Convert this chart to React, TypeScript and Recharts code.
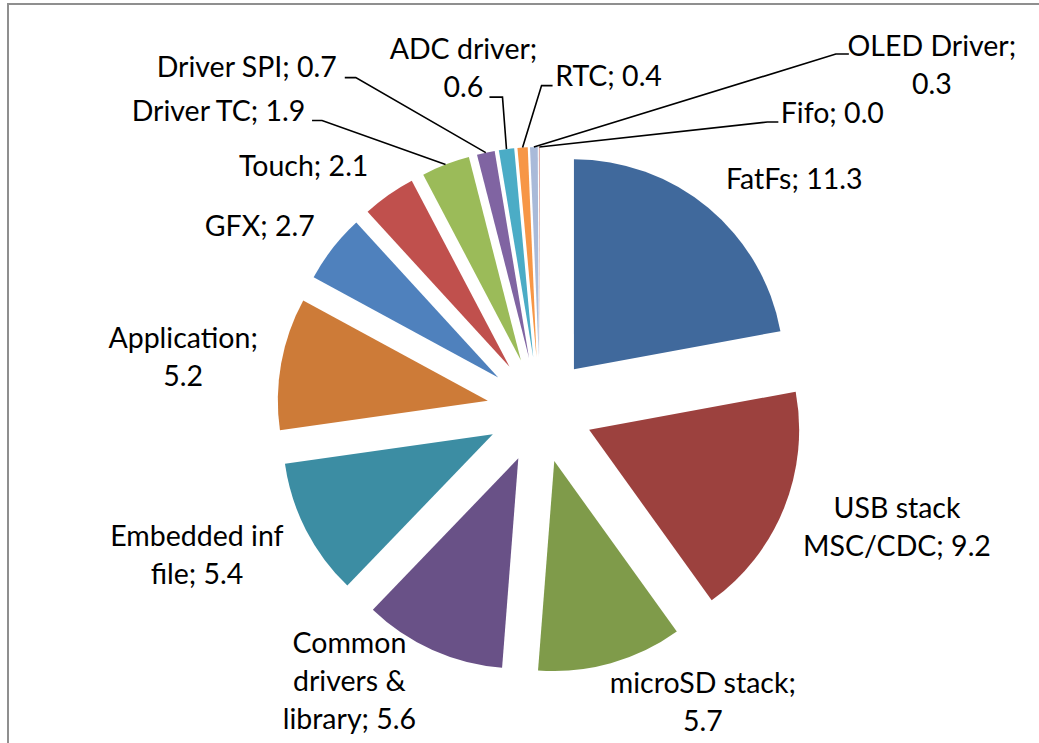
import React from 'react';
import { PieChart, Pie, Cell, Sector } from 'recharts';

// ---- data ----
const categories: string[] = [
  'FatFs',
  'USB stack MSC/CDC',
  'microSD stack',
  'Common drivers & library',
  'Embedded inf file',
  'Application',
  'GFX',
  'Touch',
  'Driver TC',
  'Driver SPI',
  'ADC driver',
  'RTC',
  'OLED Driver',
  'Fifo',
];
const sizes: number[] = [11.3, 9.2, 5.7, 5.6, 5.4, 5.2, 2.7, 2.1, 1.9, 0.7, 0.6, 0.4, 0.3, 0.04];

// ---- styles ----
const colors: string[] = [
  '#40699C', '#9C413E', '#7F9B4A', '#695187', '#3C8DA3', '#CD7B38',
  '#4F81BD', '#C0504D', '#9BBB59', '#8064A2', '#4BACC6', '#F79646',
  '#A9BAD9', '#D9A5A3',
];

// label placement: offset of text centre / first baseline from the exploded slice's outer mid point
type Leader = { ax: number; ay: number; tick: number };
type LabelLayout = { dx: number; dy: number; wrap: number[]; leader?: Leader };
const labelLayout: LabelLayout[] = [
  { dx: 86, dy: -19, wrap: [3] },
  { dx: 113, dy: 10, wrap: [2, 2] },
  { dx: 92, dy: 30, wrap: [2, 1] },
  { dx: -83, dy: 3, wrap: [1, 2, 2] },
  { dx: -109, dy: 16, wrap: [2, 2] },
  { dx: -98, dy: -16, wrap: [1, 1] },
  { dx: -73, dy: -12, wrap: [2] },
  { dx: -85, dy: -19, wrap: [2] },
  { dx: -227, dy: -44, wrap: [3], leader: { ax: 93.5, ay: 0, tick: 10 } },
  { dx: -239, dy: -76, wrap: [3], leader: { ax: 98, ay: 1, tick: 11 } },
  { dx: -43, dy: -90, wrap: [2, 1], leader: { ax: 26, ay: 38, tick: 13 } },
  { dx: 86, dy: -62, wrap: [2], leader: { ax: -56, ay: 0, tick: -11 } },
  { dx: 398, dy: -91, wrap: [2, 1], leader: { ax: -83, ay: -2, tick: -13 } },
  { dx: 293, dy: -24, wrap: [2], leader: { ax: -54, ay: -1, tick: -11 } },
];

const EXPLODE = 53;
const LINE_H = 38;
const FONT = 'Lato, "Open Sans", sans-serif';
const FONT_SIZE = 28.5;
const RAD = Math.PI / 180;

const data = categories.map((name, i) => ({ name, value: sizes[i] }));

const renderSlice = (props: any) => {
  const { cx, cy, midAngle, outerRadius, startAngle, endAngle, index } = props;
  const ux = Math.cos(-midAngle * RAD);
  const uy = Math.sin(-midAngle * RAD);
  const scx = cx + EXPLODE * ux;
  const scy = cy + EXPLODE * uy;
  const ox = scx + outerRadius * ux;
  const oy = scy + outerRadius * uy;
  const L = labelLayout[index];
  const tx = ox + L.dx;
  const ty = oy + L.dy;
  const words = `${categories[index]}; ${sizes[index].toFixed(1)}`.split(' ');
  const lines: string[] = [];
  let p = 0;
  L.wrap.forEach((n) => {
    lines.push(words.slice(p, p + n).join(' '));
    p += n;
  });
  let leader = null;
  if (L.leader) {
    const axp = tx + L.leader.ax;
    const ayp = ty + L.leader.ay;
    const bx = axp + L.leader.tick;
    leader = (
      <polyline
        points={`${axp},${ayp} ${bx},${ayp} ${ox},${oy}`}
        fill="none"
        stroke="#000"
        strokeWidth={1.6}
      />
    );
  }
  return (
    <g key={`s-${index}`}>
      <Sector
        cx={scx}
        cy={scy}
        innerRadius={0}
        outerRadius={outerRadius}
        startAngle={startAngle}
        endAngle={endAngle}
        fill={colors[index]}
        stroke="none"
      />
      {leader}
      <text textAnchor="middle" fontFamily={FONT} fontSize={FONT_SIZE} fill="#000">
        {lines.map((l, k) => (
          <tspan key={k} x={tx} y={ty + k * LINE_H}>
            {l}
          </tspan>
        ))}
      </text>
    </g>
  );
};

export default function App() {
  return (
    <div
      style={{
        position: 'absolute',
        left: 0,
        top: 0,
        width: 1039,
        height: 743,
        overflow: 'hidden',
        background: '#fff',
      }}
    >
      <div
        style={{
          position: 'absolute',
          left: 7,
          top: 3,
          width: 1100,
          height: 800,
          border: '2px solid #8f8f8f',
          boxSizing: 'border-box',
        }}
      />
      <div style={{ position: 'absolute', left: 0, top: 0 }}>
        <PieChart width={1039} height={743} margin={{ top: 0, right: 0, bottom: 0, left: 0 }}>
          <Pie
            data={data}
            dataKey="value"
            nameKey="name"
            cx={540}
            cy={410}
            innerRadius={0}
            outerRadius={210}
            startAngle={90}
            endAngle={-270}
            stroke="none"
            isAnimationActive={false}
            label={renderSlice}
            labelLine={false}
          >
            {data.map((d) => (
              <Cell key={d.name} fill="transparent" stroke="none" />
            ))}
          </Pie>
        </PieChart>
      </div>
    </div>
  );
}
